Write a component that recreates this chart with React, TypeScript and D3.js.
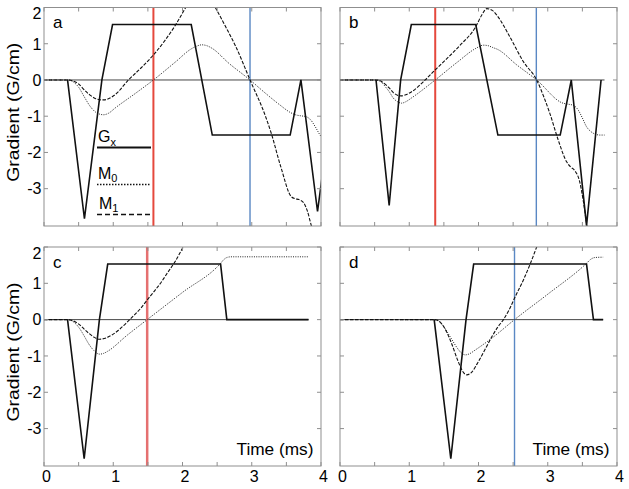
import React from "react";
import * as d3 from "d3";

// ---------------- data ----------------
const xTicksMinor = [0, 0.5, 1, 1.5, 2, 2.5, 3, 3.5, 4];
const xTickLabels = [0, 1, 2, 3, 4];
const yTicks = [-3, -2, -1, 0, 1, 2];
const yTickLabels = [2, 1, 0, -1, -2, -3];

// panel a
const gxA: [number, number][] = [[0.34, 0], [0.584, -3.83], [0.836, 0], [0.99, 1.53], [2.126, 1.53], [2.43, -1.52], [3.555, -1.52], [3.71, 0], [3.95, -3.63], [4.2, 0]];
const m0A: [number, number][] = [[0, 0], [0.34, 0], [0.42, -0.05], [0.5, -0.2], [0.58, -0.46], [0.66, -0.71], [0.74, -0.88], [0.8, -0.94], [0.86, -0.96], [0.93, -0.92], [1.03, -0.77], [1.32, -0.37], [1.58, 0], [1.9, 0.5], [2.12, 0.85], [2.2, 0.93], [2.28, 0.97], [2.36, 0.94], [2.43, 0.87], [2.67, 0.46], [2.975, 0], [3.2, -0.37], [3.4, -0.68], [3.56, -0.9], [3.63, -0.96], [3.71, -0.99], [3.78, -1.01], [3.85, -1.1], [3.92, -1.3], [3.97, -1.47], [4.03, -1.64]];
const m1A: [number, number][] = [[0, 0], [0.34, 0], [0.42, -0.03], [0.5, -0.11], [0.58, -0.27], [0.66, -0.41], [0.74, -0.51], [0.8, -0.545], [0.86, -0.55], [0.93, -0.52], [1.03, -0.4], [1.22, 0], [1.4, 0.33], [1.58, 0.69], [1.75, 1.1], [1.9, 1.52], [2.04, 1.98], [2.15, 2.35], [2.26, 2.5], [2.37, 2.35], [2.48, 1.98], [2.62, 1.48], [2.77, 0.92], [2.975, 0], [3.2, -1.01], [3.28, -1.46], [3.42, -2.4], [3.57, -3.22], [3.63, -3.28], [3.68, -3.3], [3.75, -3.39], [3.8, -3.6], [3.86, -4.02], [3.9, -4.3]];
const redA = 1.58;
const blueA = 2.975;

// panel b
const gxB: [number, number][] = [[0.52, 0], [0.71, -3.46], [0.876, 0], [1.03, 1.53], [1.96, 1.53], [2.28, -1.52], [3.18, -1.52], [3.34, 0], [3.56, -4.02], [3.77, 0]];
const m0B: [number, number][] = [[0, 0], [0.52, 0], [0.6, -0.06], [0.66, -0.2], [0.71, -0.32], [0.77, -0.5], [0.83, -0.6], [0.89, -0.64], [0.95, -0.6], [1.03, -0.5], [1.375, 0], [1.7, 0.5], [1.96, 0.87], [2.07, 0.96], [2.13, 0.95], [2.2, 0.9], [2.28, 0.84], [2.55, 0.42], [2.84, 0], [3.22, -0.64], [3.3, -0.67], [3.37, -0.7], [3.44, -0.83], [3.5, -1.05], [3.56, -1.29], [3.62, -1.42], [3.68, -1.49], [3.75, -1.52], [3.82, -1.52]];
const m1B: [number, number][] = [[0, 0], [0.52, 0], [0.6, -0.04], [0.66, -0.13], [0.71, -0.22], [0.77, -0.35], [0.83, -0.42], [0.88, -0.44], [0.95, -0.41], [1.03, -0.33], [1.23, 0], [1.375, 0.28], [1.55, 0.6], [1.73, 0.95], [1.96, 1.47], [2.05, 1.8], [2.12, 1.97], [2.2, 1.92], [2.28, 1.75], [2.45, 1.2], [2.65, 0.5], [2.84, 0], [2.95, -0.5], [3.03, -0.92], [3.15, -1.65], [3.27, -2.25], [3.33, -2.4], [3.39, -2.5], [3.46, -2.8], [3.51, -3.3], [3.56, -3.95], [3.6, -4.5]];
const redB = 1.375;
const blueB = 2.835;

// panel c
const gxC: [number, number][] = [[0.34, 0], [0.58, -3.83], [0.8, 0], [0.92, 1.53], [2.55, 1.53], [2.64, 0], [3.82, 0]];
const m0C: [number, number][] = [[0, 0], [0.34, 0], [0.4, -0.03], [0.46, -0.12], [0.52, -0.26], [0.58, -0.45], [0.65, -0.68], [0.72, -0.85], [0.8, -0.95], [0.86, -0.93], [0.92, -0.87], [1.2, -0.43], [1.49, 0], [2.0, 0.75], [2.55, 1.55], [2.6, 1.66], [2.64, 1.71], [2.7, 1.73], [3.82, 1.73]];
const m1C: [number, number][] = [[0, 0], [0.34, 0], [0.4, -0.02], [0.46, -0.07], [0.52, -0.15], [0.58, -0.26], [0.65, -0.38], [0.72, -0.48], [0.8, -0.54], [0.9, -0.5], [1.0, -0.4], [1.1, -0.25], [1.2, -0.07], [1.3, 0.12], [1.4, 0.32], [1.49, 0.54], [1.6, 0.8], [1.7, 1.05], [1.78, 1.28], [1.9, 1.62], [2.01, 2.0], [2.1, 2.3]];
const redC = 1.49;

// panel d
const gxD: [number, number][] = [[1.36, 0], [1.6, -3.83], [1.82, 0], [1.93, 1.53], [3.56, 1.53], [3.66, 0], [3.8, 0]];
const m0D: [number, number][] = [[0.87, 0], [1.36, 0], [1.42, -0.03], [1.5, -0.2], [1.6, -0.5], [1.7, -0.8], [1.76, -0.93], [1.81, -0.97], [1.87, -0.94], [1.95, -0.84], [2.2, -0.5], [2.52, 0], [3.0, 0.7], [3.56, 1.55], [3.62, 1.66], [3.68, 1.71], [3.8, 1.72]];
const m1D: [number, number][] = [[0, 0], [1.36, 0], [1.42, -0.03], [1.5, -0.2], [1.6, -0.6], [1.7, -1.12], [1.77, -1.42], [1.83, -1.52], [1.9, -1.45], [2.0, -1.15], [2.1, -0.8], [2.19, -0.48], [2.28, -0.2], [2.36, 0], [2.45, 0.3], [2.53, 0.63], [2.65, 1.1], [2.75, 1.55], [2.84, 2.0], [2.9, 2.3]];
const blueD = 2.52;

const zeroEnds = { a: 4.2, b: 3.82, c: 3.82, d: 3.8 };

// ---------------- styles ----------------
const FONT = "'Liberation Sans', Arial, Helvetica, sans-serif";
const BORDER = "#8f8f8f";
const RED = "#e5483d";
const RED_C = "#e57070";
const BLUE = "#5a88c4";

type Panel = {
  id: "a" | "b" | "c" | "d";
  x0: number; x1: number; y0: number; y1: number;
  gx: [number, number][]; m0: [number, number][]; m1: [number, number][];
  red?: number; blue?: number;
  redColor?: string; redWidth?: number;
  showY: boolean; showX: boolean; legend: boolean;
};

const panels: Panel[] = [
  { id: "a", x0: 44, x1: 321, y0: 7.5, y1: 226, gx: gxA, m0: m0A, m1: m1A, red: redA, blue: blueA, redColor: RED, redWidth: 2, showY: true, showX: false, legend: true },
  { id: "b", x0: 340, x1: 617, y0: 7.5, y1: 226, gx: gxB, m0: m0B, m1: m1B, red: redB, blue: blueB, redColor: RED, redWidth: 2, showY: false, showX: false, legend: false },
  { id: "c", x0: 44, x1: 321, y0: 247, y1: 466, gx: gxC, m0: m0C, m1: m1C, red: redC, redColor: RED_C, redWidth: 2.5, showY: true, showX: true, legend: false },
  { id: "d", x0: 340, x1: 617, y0: 247, y1: 466, gx: gxD, m0: m0D, m1: m1D, blue: blueD, showY: false, showX: true, legend: false },
];

function PanelView({ p }: { p: Panel }) {
  const x = d3.scaleLinear().domain([0, 4]).range([p.x0, p.x1]);
  const y = d3.scaleLinear().domain([-4.03, 2]).range([p.y1, p.y0]);
  const smooth = d3.line<[number, number]>().x(d => x(d[0])).y(d => y(d[1])).curve(d3.curveMonotoneX);
  const straight = d3.line<[number, number]>().x(d => x(d[0])).y(d => y(d[1]));
  const clipId = `clip-${p.id}`;
  const tick = 4;
  const zeroLine: [number, number][] = [[0, 0], [zeroEnds[p.id], 0]];
  return (
    <g>
      <defs>
        <clipPath id={clipId}>
          <rect x={p.x0} y={p.y0} width={p.x1 - p.x0} height={p.y1 - p.y0} />
        </clipPath>
      </defs>
      <g clipPath={`url(#${clipId})`}>
        <path d={straight(zeroLine) || ""} fill="none" stroke="#444" strokeWidth={1} />
        {p.red !== undefined && (
          <line x1={x(p.red)} x2={x(p.red)} y1={p.y0} y2={p.y1} stroke={p.redColor} strokeWidth={p.redWidth} />
        )}
        {p.blue !== undefined && (
          <line x1={x(p.blue)} x2={x(p.blue)} y1={p.y0} y2={p.y1} stroke={BLUE} strokeWidth={1.4} />
        )}
        <path d={smooth(p.m0) || ""} fill="none" stroke="#222" strokeWidth={1} strokeDasharray="1,1.3" />
        <path d={smooth(p.m1) || ""} fill="none" stroke="#111" strokeWidth={1.1} strokeDasharray="3.5,1.5" />
        <path d={straight(p.gx) || ""} fill="none" stroke="#111" strokeWidth={1.6} strokeLinejoin="miter" />
      </g>
      <rect x={p.x0} y={p.y0} width={p.x1 - p.x0} height={p.y1 - p.y0} fill="none" stroke={BORDER} strokeWidth={1} />
      {xTicksMinor.map(t => (
        <g key={`xt${t}`}>
          <line x1={x(t)} x2={x(t)} y1={p.y1} y2={p.y1 - tick} stroke={BORDER} />
          <line x1={x(t)} x2={x(t)} y1={p.y0} y2={p.y0 + tick} stroke={BORDER} />
        </g>
      ))}
      {yTicks.map(v => (
        <g key={`yt${v}`}>
          <line x1={p.x0} x2={p.x0 + tick} y1={y(v)} y2={y(v)} stroke={BORDER} />
          <line x1={p.x1} x2={p.x1 - tick} y1={y(v)} y2={y(v)} stroke={BORDER} />
        </g>
      ))}
      {p.showY && yTickLabels.map(v => (
        <text key={`yl${v}`} x={p.x0 - 2.5} y={v === 2 ? p.y0 + 11.5 : y(v) + 5.8} textAnchor="end" fontSize={16} fontFamily={FONT} fill="#000">
          {v}
        </text>
      ))}
      {p.showY && (
        <text transform={`translate(19,${(p.y0 + p.y1) / 2 - 4.5}) rotate(-90)`} textAnchor="middle" fontSize={16} fontFamily={FONT} textLength={139} lengthAdjust="spacingAndGlyphs" fill="#000">
          Gradient  (G/cm)
        </text>
      )}
      {p.showX && xTickLabels.map(t => (
        <text key={`xl${t}`} x={x(t) + 2.5} y={p.y1 + 16} textAnchor="middle" fontSize={16} fontFamily={FONT} fill="#000">
          {t}
        </text>
      ))}
      {p.showX && (
        <text x={p.x1 - 7.5} y={p.y1 - 11} textAnchor="end" fontSize={16} fontFamily={FONT} textLength={77} lengthAdjust="spacingAndGlyphs" fill="#000">
          Time (ms)
        </text>
      )}
      <text x={p.x0 + 9} y={p.y0 + 20.5} fontSize={17} fontFamily={FONT} fill="#000">{p.id}</text>
      {p.legend && (
        <g fontFamily={FONT} fill="#000">
          <text x={98} y={142} fontSize={16}>G<tspan fontSize={11} dy={4}>x</tspan></text>
          <line x1={97} x2={151} y1={147.5} y2={147.5} stroke="#111" strokeWidth={1.8} />
          <text x={98} y={179} fontSize={16}>M<tspan fontSize={11} dy={3}>0</tspan></text>
          <line x1={97} x2={151} y1={184.5} y2={184.5} stroke="#111" strokeWidth={1.5} strokeDasharray="1.5,1.5" />
          <text x={99} y={209} fontSize={16}>M<tspan fontSize={11} dy={3}>1</tspan></text>
          <line x1={97} x2={151} y1={214.5} y2={214.5} stroke="#111" strokeWidth={1.7} strokeDasharray="5,3" />
        </g>
      )}
    </g>
  );
}

export default function App() {
  return (
    <svg width={629} height={489} viewBox="0 0 629 489" style={{ position: "absolute", left: 0, top: 0, background: "#fff" }}>
      <rect x={0} y={0} width={629} height={489} fill="#fff" />
      {panels.map(p => <PanelView key={p.id} p={p} />)}
    </svg>
  );
}
